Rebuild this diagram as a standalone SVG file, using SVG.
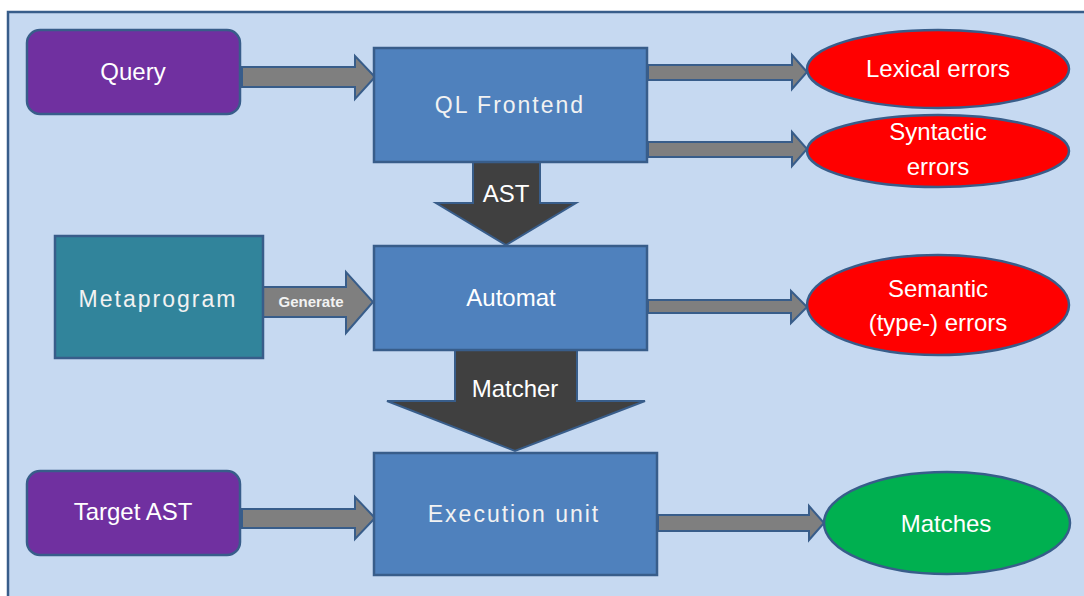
<svg xmlns="http://www.w3.org/2000/svg" width="1084" height="596" viewBox="0 0 1084 596">
  <style>
    .box { fill: #4F81BD; stroke: #385D8A; stroke-width: 2.5; }
    .src { fill: #7030A0; stroke: #385D8A; stroke-width: 2.5; }
    .meta { fill: #31849B; stroke: #385D8A; stroke-width: 2.5; }
    .err { fill: #FF0000; stroke: #385D8A; stroke-width: 2.5; }
    .ok { fill: #00B050; stroke: #385D8A; stroke-width: 2.5; }
    .garrow { fill: #7F7F7F; stroke: #385D8A; stroke-width: 2; stroke-linejoin: miter; }
    .darrow { fill: #404040; stroke: #385D8A; stroke-width: 2; stroke-linejoin: miter; }
    text { font-family: "Liberation Sans", Arial, sans-serif; fill: #FFFFFF; text-anchor: middle; }
    .t { font-size: 24px; }
    .ts { font-size: 23px; letter-spacing: 2px; fill: #F2F2F2; }
    .small { font-size: 15px; font-weight: bold; fill: #F2F2F2; }
  </style>
  <rect x="8" y="12" width="1090" height="600" fill="#C6D9F1" stroke="#385D8A" stroke-width="2.5"/>

  <g id="connectors">
    <!-- Query -> QL Frontend -->
    <path class="garrow" d="M242,67 H355 V56 L375,77 L355,99 V87 H242 Z"/>
    <!-- Target AST -> Execution unit -->
    <path class="garrow" d="M242,509 H355 V497 L375,518 L355,539 V528 H242 Z"/>
    <!-- Generate -->
    <path class="garrow" d="M263,287 H346 V272 L373,302 L346,333 V317 H263 Z"/>
    <!-- QL -> Lexical -->
    <path class="garrow" d="M648,65 H792 V55 L807,72 L792,89 V80 H648 Z"/>
    <!-- QL -> Syntactic -->
    <path class="garrow" d="M648,142 H792 V132 L807,149 L792,166 V157 H648 Z"/>
    <!-- Automat -> Semantic -->
    <path class="garrow" d="M648,300 H791 V291 L807,307 L791,323 V313 H648 Z"/>
    <!-- Execution -> Matches -->
    <path class="garrow" d="M658,515 H809 V506 L824,523 L809,540 V531 H658 Z"/>
    <!-- AST -->
    <path class="darrow" d="M473,162 H540 V203 H576 L506,245 L436,203 H473 Z"/>
    <text class="t" x="506" y="202">AST</text>
    <!-- Matcher -->
    <path class="darrow" d="M455,350 H577 V401 H645 L515,451 L387,401 H455 Z"/>
    <text class="t" x="515" y="397">Matcher</text>
    <text class="small" x="311" y="307">Generate</text>
  </g>

  <g id="query">
    <rect class="src" x="27" y="30" width="213" height="84" rx="13"/>
    <text class="t" x="133" y="80">Query</text>
  </g>
  <g id="target-ast">
    <rect class="src" x="27" y="471" width="213" height="84" rx="13"/>
    <text class="t" x="133" y="520">Target AST</text>
  </g>
  <g id="metaprogram">
    <rect class="meta" x="55" y="236" width="208" height="122"/>
    <text class="ts" x="158" y="307">Metaprogram</text>
  </g>
  <g id="ql-frontend">
    <rect class="box" x="374" y="48" width="273" height="114"/>
    <text class="ts" x="510" y="113">QL Frontend</text>
  </g>
  <g id="automat">
    <rect class="box" x="374" y="246" width="273" height="104"/>
    <text class="t" x="511" y="306">Automat</text>
  </g>
  <g id="execution-unit">
    <rect class="box" x="374" y="453" width="283" height="122"/>
    <text class="ts" x="514" y="522">Execution unit</text>
  </g>
  <g id="lexical-errors">
    <ellipse class="err" cx="938" cy="69" rx="131" ry="39"/>
    <text class="t" x="938" y="77">Lexical errors</text>
  </g>
  <g id="syntactic-errors">
    <ellipse class="err" cx="938" cy="151" rx="131" ry="36"/>
    <text class="t" x="938" y="140">Syntactic</text>
    <text class="t" x="938" y="175">errors</text>
  </g>
  <g id="semantic-errors">
    <ellipse class="err" cx="938" cy="305" rx="131" ry="50"/>
    <text class="t" x="938" y="297">Semantic</text>
    <text class="t" x="938" y="331">(type-) errors</text>
  </g>
  <g id="matches">
    <ellipse class="ok" cx="947" cy="523" rx="123" ry="51"/>
    <text class="t" x="946" y="532">Matches</text>
  </g>
</svg>
